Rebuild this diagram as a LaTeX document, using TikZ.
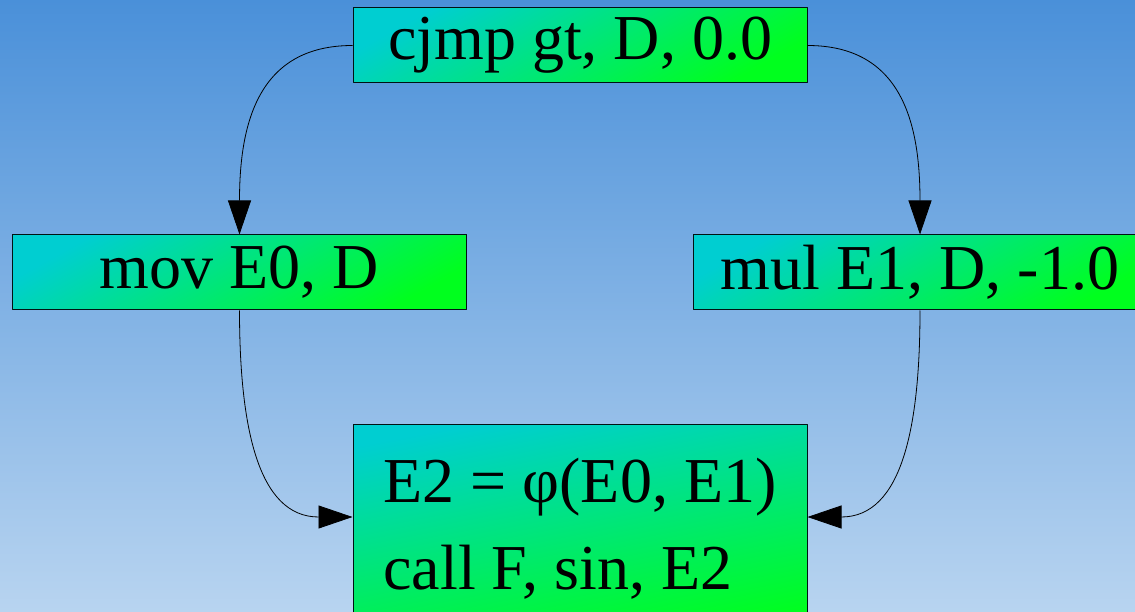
\documentclass[tikz,border=0pt]{standalone}
\usepackage{fontspec}
\setmainfont{Liberation Serif}
\newfontfamily\instrfont{Liberation Serif}
\usetikzlibrary{arrows.meta}

\definecolor{skytop}{RGB}{74,144,217}
\definecolor{skybottom}{RGB}{184,212,240}
\definecolor{boxcyan}{RGB}{0,206,209}
\definecolor{boxgreen}{RGB}{0,255,30}

\begin{document}
\begin{tikzpicture}[
    x=1pt,
    y=1pt,
    line join=round,
    instr/.style={
        draw=black!85!teal,
        line width=1pt,
        rectangle,
        top color=boxcyan,
        bottom color=boxgreen,
        shading angle=29,
        minimum width=454pt,
        minimum height=75pt,
        inner sep=0pt,
        font=\instrfont\fontsize{64}{87}\selectfont
    },
    flow/.style={
        -{Triangle[length=34pt,width=23pt]},
        line width=0.8pt
    }
]

% =========================
% Canvas
% =========================
\useasboundingbox (0,0) rectangle (1135,-612);
\clip (0,0) rectangle (1135,-612);
\shade[top color=skytop, bottom color=skybottom] (0,0) rectangle (1135,-612);

% =========================
% Nodes
% =========================
\node[instr] (cjmp) at (580,-45.5) {cjmp gt, D, 0.0};

\node[instr] (mov) at (239.5,-272.5) {mov E0, D};

\node[instr] (mul) at (920,-272.5) {mul E1, D, -1.0};

\node[instr, shading angle=11, minimum height=210pt, align=left] (phi) at (580,-529)
    {E2 = φ(E0, E1)\\call F, sin, E2};

% =========================
% Branches
% =========================
\draw[flow] (cjmp.west) .. controls +(-95,0) and +(0,110) .. (mov.north);
\draw[flow] (cjmp.east) .. controls +(95,0) and +(0,110) .. (mul.north);

% =========================
% Join
% =========================
\draw[flow] (mov.south) .. controls +(0,-115) and +(-95,0) .. ([yshift=12pt]phi.west);
\draw[flow] (mul.south) .. controls +(0,-115) and +(95,0) .. ([yshift=12pt]phi.east);

\end{tikzpicture}
\end{document}
